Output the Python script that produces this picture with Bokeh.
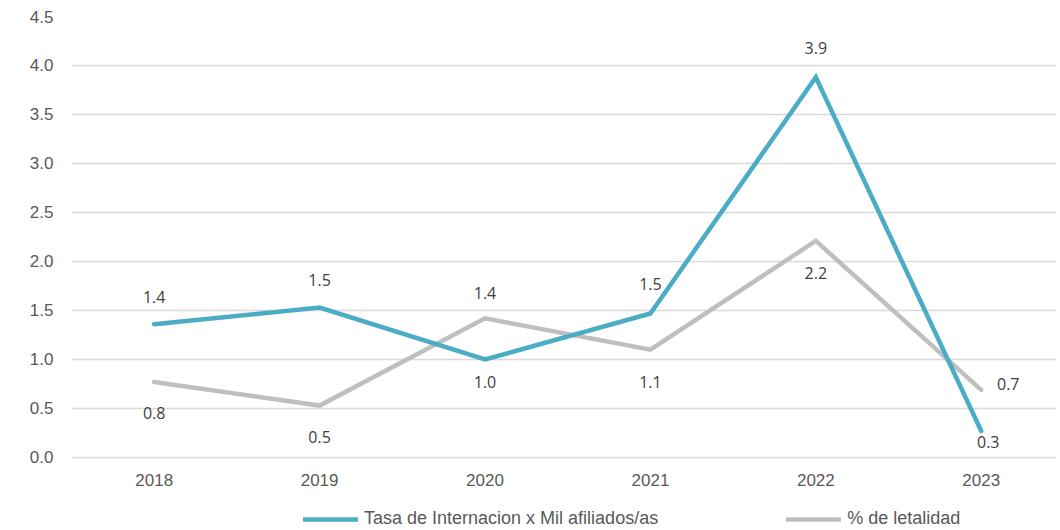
from bokeh.plotting import figure
from bokeh.models import (ColumnDataSource, LabelSet, Legend, LegendItem,
                          FixedTicker, PrintfTickFormatter, Range1d)
from bokeh.core.properties import value
from bokeh.embed import file_html
from bokeh.resources import INLINE

years = ["2018", "2019", "2020", "2021", "2022", "2023"]
tasa = [1.36, 1.53, 1.00, 1.47, 3.88, 0.27]
letalidad = [0.77, 0.53, 1.42, 1.10, 2.21, 0.69]
name_tasa = "Tasa de Internacion x Mil afiliados/as"
name_let = "% de letalidad"
y_ticks = [0.0, 0.5, 1.0, 1.5, 2.0, 2.5, 3.0, 3.5, 4.0, 4.5]

# label placement styles (screen px offsets)
tasa_dx = [0, 0, 0, 0, 0, 7]
tasa_dy = [27, 28, -23, 29, 29, -11]
let_dx = [0, 0, 0, 0, 0, 27]
let_dy = [-31, -31, 25, -32, -32, 6]

TEAL = "#4BACC6"
GRAY = "#BFBFBF"

xs = list(range(len(years)))

# frame reaches the bottom of the figure so the legend can sit under the year labels
p = figure(width=1056, height=528, output_backend="svg", toolbar_location=None,
           x_range=Range1d(-0.5, 5.455), y_range=Range1d(-0.7245, 4.5),
           min_border_left=71, min_border_right=0, min_border_top=16,
           min_border_bottom=0)
p.outline_line_color = None
p.background_fill_color = "white"
p.border_fill_color = "white"

p.xgrid.visible = False
p.ygrid.grid_line_color = "#D9D9D9"
p.ygrid.grid_line_width = 1.5
p.ygrid.ticker = FixedTicker(ticks=y_ticks)

p.xaxis.visible = False
p.yaxis.ticker = FixedTicker(ticks=y_ticks)
p.yaxis.formatter = PrintfTickFormatter(format="%.1f")
ax = p.yaxis[0]
ax.axis_line_color = None
ax.major_tick_line_color = None
ax.minor_tick_line_color = None
ax.major_tick_out = 0
ax.minor_tick_out = 0
ax.major_label_text_font = "Liberation Sans"
ax.major_label_text_font_size = "17px"
ax.major_label_text_color = "#595959"
ax.major_label_standoff = 18

# category (year) labels under the zero line
src_years = ColumnDataSource(dict(x=xs, y=[0] * len(years), t=years))
p.add_layout(LabelSet(x="x", y="y", text="t", source=src_years, y_offset=-23,
                      text_align="center", text_baseline="middle",
                      text_font=value("Liberation Sans"), text_font_size=value("17px"),
                      text_color=value("#595959")))

src_let = ColumnDataSource(dict(x=xs, y=letalidad,
                                t=[f"{v:.1f}" for v in letalidad],
                                dx=let_dx, dy=let_dy))
src_tasa = ColumnDataSource(dict(x=xs, y=tasa,
                                 t=[f"{v:.1f}" for v in tasa],
                                 dx=tasa_dx, dy=tasa_dy))

r_let = p.line("x", "y", source=src_let, line_color=GRAY, line_width=4.5,
               line_cap="round", line_join="miter")
r_tasa = p.line("x", "y", source=src_tasa, line_color=TEAL, line_width=4.5,
                line_cap="round", line_join="miter")

for src in (src_tasa, src_let):
    lab = LabelSet(x="x", y="y", text="t", source=src, x_offset="dx", y_offset="dy",
                   text_align="center", text_baseline="middle",
                   text_font=value("Open Sans"), text_font_size=value("16px"),
                   text_color=value("#404040"))
    p.add_layout(lab)

legend = Legend(items=[LegendItem(label=name_tasa, renderers=[r_tasa]),
                       LegendItem(label=name_let, renderers=[r_let])],
                orientation="horizontal", location=(232, -1),
                spacing=128, glyph_width=55, glyph_height=20, label_height=20,
                label_standoff=6, padding=0, margin=0,
                label_text_font="Liberation Sans", label_text_font_size="18px",
                label_text_color="#595959", background_fill_alpha=0,
                border_line_color=None)
p.add_layout(legend, "center")

open("out.html", "w").write(file_html(p, INLINE))
